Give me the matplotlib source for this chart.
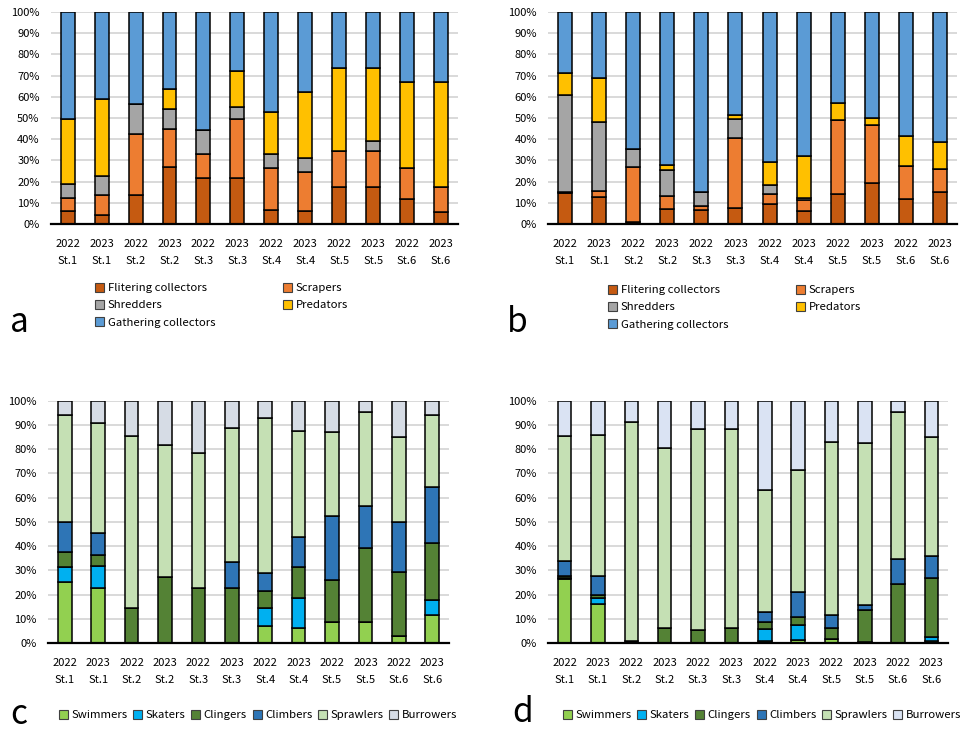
import matplotlib
matplotlib.use('Agg')
import matplotlib.pyplot as plt
from matplotlib.patches import Patch
import numpy as np

plt.rcParams['font.family'] = ['Noto Sans CJK KR', 'DejaVu Sans']

etiquetas = ['2022\nSt.1', '2023\nSt.1', '2022\nSt.2', '2023\nSt.2', '2022\nSt.3', '2023\nSt.3',
             '2022\nSt.4', '2023\nSt.4', '2022\nSt.5', '2023\nSt.5', '2022\nSt.6', '2023\nSt.6']

# Grupos funcionales de alimentacion (%) - panel a
ffg_nombres = ['Flitering collectors', 'Scrapers', 'Shredders', 'Predators', 'Gathering collectors']
ffg_colores = ['#C55A11', '#ED7D31', '#A5A5A5', '#FFC000', '#5B9BD5']
a_filtering = [6.1, 4.1, 13.9, 27.1, 21.6, 21.6, 6.5, 6.1, 17.5, 17.5, 11.7, 5.7]
a_scrapers = [6.0, 9.6, 28.6, 17.8, 11.3, 28.0, 19.8, 18.6, 17.1, 17.0, 14.6, 11.8]
a_shredders = [6.6, 9.0, 14.2, 9.3, 11.5, 5.5, 6.8, 6.2, 0.0, 4.6, 0.0, 0.0]
a_predators = [30.9, 36.4, 0.0, 9.4, 0.0, 17.0, 19.8, 31.5, 38.9, 34.4, 40.9, 49.7]
a_gathering = [50.4, 40.9, 43.3, 36.4, 55.6, 27.9, 47.1, 37.6, 26.5, 26.5, 32.8, 32.8]

# panel b
b_filtering = [14.8, 12.9, 0.8, 7.2, 6.6, 7.7, 9.6, 6.1, 14.3, 19.2, 11.7, 15.3]
b_scrapers = [0.3, 2.8, 26.0, 5.9, 1.9, 33.1, 4.7, 5.1, 34.7, 27.7, 15.7, 10.8]
b_shredders = [45.8, 32.2, 8.8, 12.6, 6.5, 8.8, 4.0, 1.1, 0.0, 0.0, 0.0, 0.0]
b_predators = [10.3, 20.8, 0.0, 2.3, 0.0, 1.7, 11.1, 19.8, 7.9, 3.3, 13.9, 12.8]
b_gathering = [28.8, 31.3, 64.4, 72.0, 85.0, 48.7, 70.6, 67.9, 43.1, 49.8, 58.7, 61.1]

# Grupos de habitos (%) - panel c
hab_nombres = ['Swimmers', 'Skaters', 'Clingers', 'Climbers', 'Sprawlers', 'Burrowers']
c_swimmers = [25.0, 22.7, 0.0, 0.0, 0.0, 0.0, 7.0, 6.3, 8.7, 8.7, 3.0, 11.5]
c_skaters = [6.2, 9.2, 0.0, 0.0, 0.0, 0.0, 7.4, 12.2, 0.0, 0.0, 0.0, 6.2]
c_clingers = [6.3, 4.5, 14.4, 27.3, 22.5, 22.5, 7.0, 12.8, 17.4, 30.6, 26.4, 23.5]
c_climbers = [12.4, 9.2, 0.0, 0.0, 0.0, 10.9, 7.3, 12.4, 26.2, 17.3, 20.6, 23.2]
c_sprawlers = [44.1, 45.2, 71.0, 54.6, 55.8, 55.5, 64.2, 43.9, 34.7, 38.9, 35.2, 29.8]
c_burrowers = [6.0, 9.2, 14.6, 18.1, 21.7, 11.1, 7.1, 12.4, 13.0, 4.5, 14.8, 5.8]

# panel d
d_swimmers = [26.5, 16.2, 0.0, 0.0, 0.0, 0.0, 1.0, 1.1, 1.8, 0.3, 0.0, 0.7]
d_skaters = [0.3, 2.3, 0.0, 0.0, 0.0, 0.0, 4.8, 6.2, 0.0, 0.0, 0.0, 1.9]
d_clingers = [0.9, 1.4, 0.7, 6.3, 5.5, 6.3, 2.9, 3.4, 4.4, 13.4, 24.2, 24.3]
d_climbers = [6.2, 7.8, 0.0, 0.0, 0.0, 0.0, 3.9, 10.3, 5.5, 2.0, 10.6, 9.2]
d_sprawlers = [51.4, 58.2, 90.6, 74.2, 82.7, 82.2, 50.4, 50.4, 71.1, 66.9, 60.4, 48.8]
d_burrowers = [14.7, 14.1, 8.7, 19.5, 11.8, 11.5, 37.0, 28.6, 17.2, 17.4, 4.8, 15.1]

fig = plt.figure(figsize=(9.65, 7.38), dpi=100)
W, H = 965.0, 738.0
fs = 8.0   # ejes
fl = 8.2   # leyendas

def ejes(x0, x1, y0, y1):
    return fig.add_axes([x0 / W, 1 - y1 / H, (x1 - x0) / W, (y1 - y0) / H])

def apilar(ax, series, colores):
    x = np.arange(len(etiquetas))
    base = np.zeros(len(etiquetas))
    for s, c in zip(series, colores):
        s = np.array(s)
        ax.bar(x, s, 0.41, bottom=base, color=c, edgecolor='black', linewidth=1.1, zorder=3)
        base = base + s
    ax.set_xlim(-0.5, 11.5)
    ax.set_ylim(0, 100)
    ax.set_yticks(np.arange(0, 101, 10))
    ax.set_yticklabels([f'{v}%' for v in range(0, 101, 10)], fontsize=fs)
    ax.set_xticks(x)
    ax.set_xticklabels(etiquetas, fontsize=fs, linespacing=1.85)
    ax.tick_params(axis='both', length=0, colors='black')
    ax.tick_params(axis='x', pad=11)
    ax.tick_params(axis='y', pad=8)
    ax.grid(axis='y', color='#D9D9D9', linewidth=1.4, zorder=0)
    for lado in ['left', 'right', 'top']:
        ax.spines[lado].set_visible(False)
    ax.spines['bottom'].set_linewidth(1.6)
    ax.spines['bottom'].set_zorder(4)

def cuadros(colores):
    return [Patch(facecolor=c, edgecolor='#404040', linewidth=0.8) for c in colores]

# a
ax_a = ejes(50.7, 458, 12, 224)
apilar(ax_a, [a_filtering, a_scrapers, a_shredders, a_predators, a_gathering], ffg_colores)
# b
ax_b = ejes(548, 957, 12, 224)
apilar(ax_b, [b_filtering, b_scrapers, b_shredders, b_predators, b_gathering], ffg_colores)

orden = [0, 2, 4, 1, 3]
for x0, y0 in [(95, 283), (608, 285)]:
    h = cuadros(ffg_colores)
    fig.legend([h[i] for i in orden], [ffg_nombres[i] for i in orden], ncol=2,
               loc='upper left', bbox_to_anchor=(x0 / W, 1 - y0 / H), frameon=False,
               fontsize=fl, handlelength=0.8, handleheight=0.8, handletextpad=0.3,
               labelspacing=0.6, columnspacing=6.0, borderpad=0, borderaxespad=0)

# c
c_colores = ['#92D050', '#00B0F0', '#548235', '#2E75B6', '#C5E0B4', '#D6DCE5']
ax_c = ejes(48, 449, 400.7, 643)
apilar(ax_c, [c_swimmers, c_skaters, c_clingers, c_climbers, c_sprawlers, c_burrowers], c_colores)
# d
d_colores = ['#92D050', '#00B0F0', '#548235', '#2E75B6', '#C5E0B4', '#DAE3F3']
ax_d = ejes(548, 948, 400.7, 643)
apilar(ax_d, [d_swimmers, d_skaters, d_clingers, d_climbers, d_sprawlers, d_burrowers], d_colores)

for colores, x0 in [(c_colores, 59), (d_colores, 563)]:
    fig.legend(cuadros(colores), hab_nombres, ncol=6, loc='upper left',
               bbox_to_anchor=(x0 / W, 1 - 710 / H), frameon=False, fontsize=fl,
               handlelength=0.8, handleheight=0.8, handletextpad=0.3,
               columnspacing=0.5, borderpad=0, borderaxespad=0)

# letras de panel
for letra, x, y in [('a', 10, 322), ('b', 507, 322), ('c', 10, 715), ('d', 512, 712)]:
    fig.text(x / W, 1 - y / H, letra, fontsize=24, va='center', ha='left')

fig.savefig('out.png', dpi=100)
